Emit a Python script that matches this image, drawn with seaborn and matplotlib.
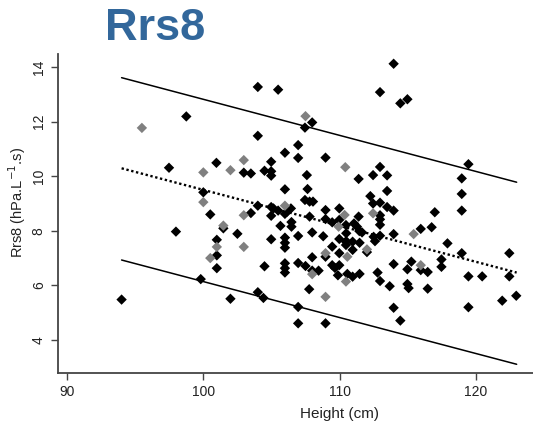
import matplotlib
matplotlib.use("Agg")
import matplotlib.pyplot as plt
import seaborn as sns
import pandas as pd

# children measured in black, the smaller group in grey
black_height = [94.0, 97.48, 97.99, 98.75, 99.81, 100.0, 100.51, 100.96, 100.99, 100.99,
                100.99, 101.47, 101.99, 102.5, 102.97, 103.49, 103.49, 104.0, 104.0, 104.0,
                104.0, 104.41, 104.49, 104.49, 104.98, 104.98, 104.98, 104.98, 104.98, 104.98,
                105.15, 105.49, 105.49, 105.66, 105.99, 105.99, 105.99, 105.99, 105.99, 105.99,
                105.99, 105.99, 105.99, 106.15, 106.43, 106.47, 106.47, 106.96, 106.96, 106.96,
                106.96, 106.96, 106.96, 107.46, 107.46, 107.5, 107.6, 107.65, 107.77, 107.8,
                107.8, 107.99, 107.99, 107.99, 107.99, 108.05, 108.46, 108.8, 108.97, 108.97,
                108.97, 108.97, 108.97, 109.46, 109.46, 109.46, 109.66, 109.88, 109.98, 109.98,
                109.98, 109.98, 109.98, 110.47, 110.47, 110.47, 110.49, 110.57, 110.96, 110.96,
                110.96, 111.06, 111.28, 111.4, 111.4, 111.45, 111.47, 111.47, 111.65, 112.01,
                112.26, 112.46, 112.46, 112.5, 112.6, 112.79, 112.97, 112.97, 112.97, 112.97,
                112.97, 112.97, 112.97, 112.97, 113.49, 113.49, 113.49, 113.68, 113.97, 113.97,
                113.97, 113.97, 113.97, 114.46, 114.46, 114.98, 114.98, 114.98, 115.07, 115.27,
                115.96, 115.96, 116.47, 116.47, 116.76, 116.99, 117.48, 117.48, 117.92, 118.97,
                118.97, 118.97, 118.97, 119.46, 119.46, 119.46, 120.47, 121.94, 122.46, 122.46,
                122.97, 110.49]
black_rrs8 = [5.48, 10.31, 7.97, 12.19, 6.23, 9.41, 8.60, 10.49, 7.67, 7.10,
              6.63, 8.09, 5.51, 7.89, 10.13, 10.10, 8.65, 13.27, 11.48, 8.92,
              5.75, 5.54, 10.20, 6.70, 10.53, 10.18, 10.02, 8.87, 8.55, 7.69,
              8.82, 13.17, 8.74, 8.18, 10.86, 9.52, 8.62, 7.75, 7.56, 7.38,
              6.81, 6.63, 6.47, 8.70, 8.82, 8.32, 8.15, 11.14, 10.67, 7.81,
              6.82, 5.21, 4.61, 11.78, 9.13, 6.71, 10.04, 9.53, 5.86, 9.07,
              8.52, 11.97, 7.94, 7.03, 6.54, 9.07, 6.54, 7.80, 10.68, 8.76,
              8.43, 7.05, 4.61, 8.31, 7.42, 6.74, 6.64, 6.37, 8.82, 8.40,
              7.70, 7.18, 6.74, 8.21, 7.60, 7.48, 7.91, 6.42, 7.60, 7.30,
              6.32, 8.27, 8.15, 9.90, 8.52, 7.99, 7.56, 6.42, 7.94, 7.22,
              9.27, 10.04, 9.0, 7.78, 7.62, 6.47, 13.08, 10.34, 9.03, 8.57,
              8.42, 8.22, 7.82, 6.16, 10.03, 9.46, 8.87, 5.97, 14.12, 8.74,
              7.88, 6.78, 5.18, 12.67, 4.71, 12.82, 6.59, 6.05, 5.90, 6.87,
              8.07, 6.56, 6.49, 5.88, 8.13, 8.68, 6.95, 6.68, 7.54, 9.92,
              9.35, 8.74, 7.18, 10.44, 6.33, 5.20, 6.33, 5.44, 7.18, 6.33,
              5.62, 7.62]

grey_height = [95.49, 100.0, 100.0, 107.5, 102.97, 101.99, 110.42, 105.99, 102.97, 110.37,
               112.46, 100.99, 100.51, 101.47, 102.97, 107.99, 108.97, 110.57, 110.47, 108.97,
               112.01, 115.44, 115.96, 109.93]
grey_rrs8 = [11.77, 10.14, 9.05, 12.2, 10.59, 10.22, 10.33, 8.92, 8.57, 8.58,
             8.64, 7.41, 7.0, 8.19, 7.41, 6.41, 7.18, 7.05, 6.14, 5.58,
             7.32, 7.88, 6.74, 8.15]

# regression line and limits
fit_height = [94, 123]
upper_limit = [13.61, 9.78]
mean_fit = [10.29, 6.47]
lower_limit = [6.93, 3.11]

sns.set_theme(style="ticks")
plt.rcParams['font.family'] = ['Liberation Sans', 'DejaVu Sans']

black = pd.DataFrame({'Height': black_height, 'Rrs8': black_rrs8})
grey = pd.DataFrame({'Height': grey_height, 'Rrs8': grey_rrs8})
lines = pd.DataFrame({'Height': fit_height, 'upper': upper_limit,
                      'mean': mean_fit, 'lower': lower_limit})

fig = plt.figure(figsize=(5.33, 4.26), dpi=100)
ax = fig.add_axes([0.108, 0.1244, 0.892, 0.749])

sns.lineplot(x='Height', y='upper', data=lines, color='black', lw=1.1, ax=ax)
sns.lineplot(x='Height', y='lower', data=lines, color='black', lw=1.1, ax=ax)
sns.lineplot(x='Height', y='mean', data=lines, color='black', lw=1.7,
             dashes=False, ax=ax).lines[-1].set_dashes((1, 1.1))

sns.scatterplot(x='Height', y='Rrs8', data=black, marker='D', s=28, color='black',
                edgecolor='none', ax=ax, zorder=3)
sns.scatterplot(x='Height', y='Rrs8', data=grey, marker='D', s=28, color='#808080',
                edgecolor='none', ax=ax, zorder=3)

ax.set(xlim=(89.3, 124.2), ylim=(2.79, 14.48))
ax.set_xticks([90, 100, 110, 120])
ax.set_yticks([4, 6, 8, 10, 12, 14])
for t in ax.get_yticklabels():
    t.set_rotation(90)
    t.set_va('center')
ax.tick_params(colors='#444444', labelcolor='#222222', labelsize=10, length=5, width=1)
for side in ['top', 'right']:
    ax.spines[side].set_visible(False)
for side in ['left', 'bottom']:
    ax.spines[side].set_color('#444444')
    ax.spines[side].set_linewidth(1.3)

ax.set_xlabel('Height (cm)', size=11, color='#222222')
ax.set_ylabel('Rrs8 (hPa.L$^{-1}$.s)', size=10.5, color='#222222')
ax.xaxis.set_label_coords(0.594, -0.105)
ax.yaxis.set_label_coords(-0.063, 0.533)

fig.text(155 / 533, 1 - 29 / 426, 'Rrs8', ha='center', va='center', size=32.5,
         weight='bold', color='#32679b')

plt.savefig('out.png', dpi=100)
